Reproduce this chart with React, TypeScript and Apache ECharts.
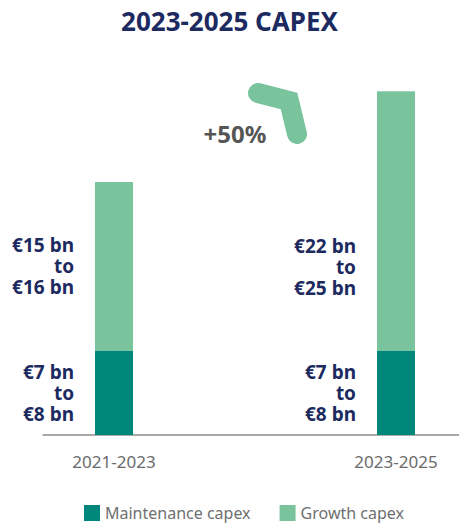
import React, { useEffect, useRef } from "react";
import * as echarts from "echarts";

const categories = ["2021-2023", "2023-2025"];
const categoryPositions = [0, 1];
const maintenance = [7.5, 7.5];
const growth = [15.1, 23.2];
const maintenanceLabels = ["€7 bn\nto\n€8 bn", "€7 bn\nto\n€8 bn"];
const growthLabels = ["€15 bn\nto\n€16 bn", "€22 bn\nto\n€25 bn"];
const seriesNames = ["Maintenance capex", "Growth capex"];
const title = "2023-2025 CAPEX";
const growthNote = "+50%";

const NAVY = "#1c2a5f";
const TEAL = "#00877b";
const GREEN = "#79c39d";
const FONT = "'Noto Sans', sans-serif";

export default function App() {
  const ref = useRef<HTMLDivElement>(null);
  useEffect(() => {
    if (!ref.current) return;
    const chart = echarts.init(ref.current, null, { renderer: "svg" });
    const labelBase = {
      show: true,
      position: "left" as const,
      distance: 21,
      color: NAVY,
      fontFamily: FONT,
      fontWeight: "bold" as const,
      fontSize: 19,
      lineHeight: 21,
      align: "right" as const,
    };
    chart.setOption({
      animation: false,
      title: {
        text: title,
        left: "center",
        top: 3,
        textStyle: { color: NAVY, fontFamily: FONT, fontWeight: "bold", fontSize: 26 },
      },
      legend: {
        data: seriesNames,
        icon: "rect",
        itemWidth: 16,
        itemHeight: 16,
        itemGap: 29,
        left: 84,
        top: 505,
        padding: 0,
        textStyle: { color: "#6f6f6f", fontFamily: FONT, fontSize: 16 },
      },
      grid: { left: 43, right: 0, top: 31.8, bottom: 90, containLabel: false },
      xAxis: {
        type: "value",
        min: -0.2518,
        max: 1.2234,
        splitLine: { show: false },
        axisTick: { show: false },
        axisLine: { show: true, onZero: false, lineStyle: { color: "#8c8c8c", width: 1.5 } },
        axisLabel: {
          customValues: categoryPositions,
          formatter: (v: number) => categories[Math.round(v)] ?? "",
          color: "#6b6b6b",
          fontFamily: FONT,
          fontSize: 17,
          margin: 18,
        },
      },
      yAxis: {
        type: "value",
        min: 0,
        max: 36,
        show: false,
        splitLine: { show: false },
      },
      series: [
        {
          name: seriesNames[0],
          type: "bar",
          stack: "capex",
          barWidth: 38,
          encode: { x: 1, y: 0 },
          itemStyle: { color: TEAL },
          label: { ...labelBase, formatter: (p: any) => maintenanceLabels[p.dataIndex] },
          data: maintenance.map((v, i) => [v, categoryPositions[i]]),
        },
        {
          name: seriesNames[1],
          type: "bar",
          stack: "capex",
          barWidth: 38,
          encode: { x: 1, y: 0 },
          itemStyle: { color: GREEN },
          label: { ...labelBase, formatter: (p: any) => growthLabels[p.dataIndex] },
          data: growth.map((v, i) =>
            i === 1
              ? { value: [v, categoryPositions[i]], label: { offset: [0, 46] } }
              : [v, categoryPositions[i]]
          ),
        },
      ],
      graphic: [
        {
          type: "polyline",
          shape: { points: [[258, 93], [289, 101], [297, 134]] },
          style: { stroke: GREEN, lineWidth: 20, lineCap: "round", lineJoin: "miter", fill: null },
          silent: true,
        },
        {
          type: "text",
          x: 235,
          y: 133,
          style: {
            text: growthNote,
            fill: "#555555",
            font: `bold 24px ${FONT}`,
            textAlign: "center",
            textVerticalAlign: "middle",
          },
        },
      ],
    });
    return () => chart.dispose();
  }, []);
  return (
    <div
      ref={ref}
      style={{ position: "absolute", left: 0, top: 0, width: 459, height: 525 }}
    />
  );
}
